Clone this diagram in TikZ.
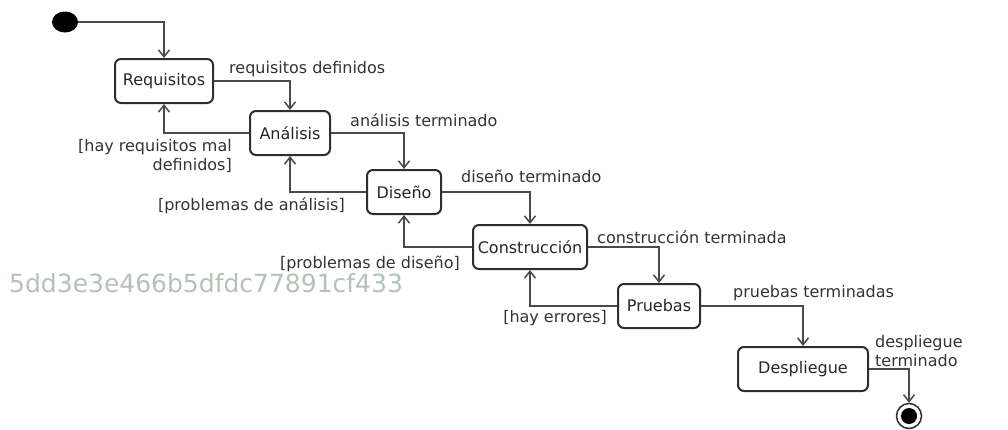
\documentclass[tikz,border=0pt]{standalone}
\usepackage{fontspec}
\setmainfont{DejaVu Sans}
\usetikzlibrary{arrows.meta,shapes.geometric}
\definecolor{linegray}{HTML}{4A4A4A}
\definecolor{boxgray}{HTML}{2E2E2E}
\definecolor{hashgray}{HTML}{B4C2B8}
\begin{document}
\begin{tikzpicture}[
  x=1pt,y=-1pt,
  font=\fontsize{16}{19}\selectfont,
  state/.style={draw=boxgray,line width=2pt,rounded corners=6pt,minimum height=44pt,inner sep=2pt,text=black!85},
  lbl/.style={text=black!80,inner sep=0pt},
  flow/.style={draw=linegray,line width=1.5pt,-{Straight Barb[length=7pt,width=11pt]}},
]
\useasboundingbox[fill=white] (0,0) rectangle (1008,429);
% states
\node[ellipse,fill=black,minimum width=26pt,minimum height=21pt,inner sep=0pt] (ini) at (65,22) {};
\node[state,minimum width=98pt] (req) at (164,81) {Requisitos};
\node[state,minimum width=80pt] (ana) at (290,133) {Análisis};
\node[state,minimum width=74pt] (dis) at (404,192) {Diseño};
\node[state,minimum width=114pt] (con) at (530,247) {Construcción};
\node[state,minimum width=82pt] (pru) at (659,306) {Pruebas};
\node[state,minimum width=130pt] (dep) at (803,369) {Despliegue};
\node[circle,draw=boxgray,line width=1.5pt,minimum size=25pt,inner sep=0pt] (fin) at (909,416) {};
\node[circle,fill=black,minimum size=16pt,inner sep=0pt] (fincore) at (fin.center) {};
% forward transitions
\draw[flow] (ini.east) -| (req.north);
\draw[flow] (req.east) -| (ana.north);
\draw[flow] (ana.east) -| (dis.north);
\draw[flow] (dis.east) -| (con.north);
\draw[flow] (con.east) -| (pru.north);
\draw[flow] (pru.east) -| (dep.north);
\draw[flow] (dep.east) -| (fin.north);
% backward transitions
\draw[flow] (ana.west) -| (req.south);
\draw[flow] (dis.west) -| (ana.south);
\draw[flow] (con.west) -| (dis.south);
\draw[flow] (pru.west) -| (con.south);
% labels
\node[lbl,anchor=west] (lreq) at (229,69) {requisitos definidos};
\node[lbl,align=right,anchor=east] (lmal) at (232,156) {[hay requisitos mal\\definidos]};
\node[lbl,anchor=west] (lana) at (350,120) {análisis terminado};
\node[lbl,anchor=east] (lpana) at (345,206) {[problemas de análisis]};
\node[lbl,anchor=west] (ldis) at (461,176) {diseño terminado};
\node[lbl,anchor=east] (lpdis) at (460,264) {[problemas de diseño]};
\node[lbl,anchor=west] (lcon) at (597,237) {construcción terminada};
\node[lbl,anchor=east] (lerr) at (607,318) {[hay errores]};
\node[lbl,anchor=west] (lpru) at (733,293) {pruebas terminadas};
\node[lbl,align=left,anchor=west] (ldep) at (875,351) {despliegue\\terminado};
\node[text=hashgray,font=\fontsize{25}{29}\selectfont,anchor=west,inner sep=0pt] (hash) at (9,283) {5dd3e3e466b5dfdc77891cf433};
\end{tikzpicture}
\end{document}
